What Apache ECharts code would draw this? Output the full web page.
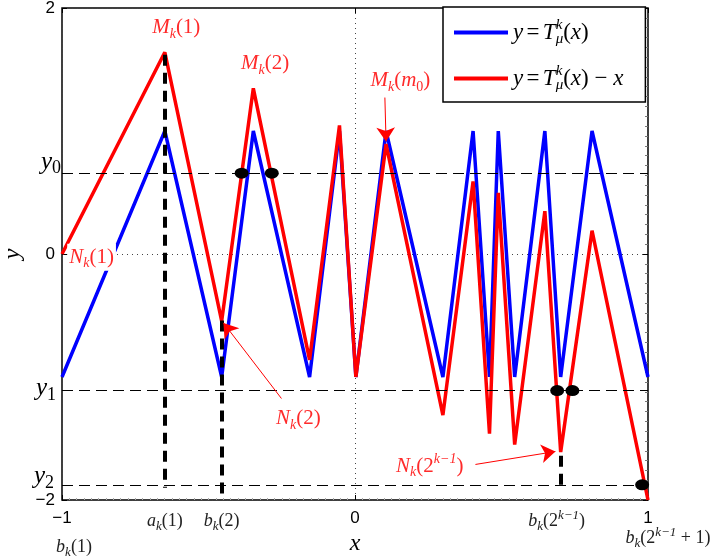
<!DOCTYPE html>
<html><head><meta charset="utf-8">
<script src="https://cdn.jsdelivr.net/npm/echarts@6/dist/echarts.min.js"></script>
<style>html,body{margin:0;padding:0;background:#fff}#c{width:715px;height:558px}</style>
</head><body><div id="c"></div>
<script>
// ---- data ----
const vertexX = [-1, -0.649, -0.455, -0.347, -0.155, -0.053, 0.003, 0.106, 0.300, 0.403, 0.459, 0.489, 0.545, 0.648, 0.702, 0.809, 1];
const blueY   = [-1, 1, -1, 1, -1, 1, -1, 1, -1, 1, -1, 1, -1, 1, -1, 1, -1];
const redY    = [0, 1.64, -0.545, 1.347, -0.86, 1.045, -1.0, 0.894, -1.31, 0.59, -1.46, 0.497, -1.55, 0.348, -1.61, 0.19, -2];
const seriesNames = ['T', 'Tx'];
const xTicks = [-1, 0, 1];
const yTicks = [-2, 0, 2];
const levelNames = ['y0', 'y1', 'y2'];
const levelValues = [0.657, -1.11, -1.877];
const vlineX = [-0.649, -0.455, 0.702];
const vlineTop = [1.62, -0.54, -1.64];
const vlineBottom = [-1.90, -1.95, -1.92];
const dotX = [-0.387, -0.284, 0.690, 0.742, 0.980];
const dotY = [0.657, 0.657, -1.11, -1.11, -1.877];
const arrowFrom = [[0.102, 1.272], [-0.251, -1.175], [0.411, -1.711]];
const arrowTo   = [[0.106, 0.915], [-0.449, -0.560], [0.684, -1.606]];

// ---- styling ----
const SERIF = '"Liberation Serif","DejaVu Serif",serif';
const SANS = '"Liberation Sans","DejaVu Sans",sans-serif';
function richSet(size, color, subScale) {
  const s = Math.round(size * (subScale || 0.7));
  const c = {color: color, fill: color};
  const base = Object.assign({fontFamily: SERIF, fontSize: size, lineHeight: size + 6, verticalAlign: 'middle'}, c);
  const small = Object.assign({fontFamily: SERIF, fontSize: s, lineHeight: s + 2}, c);
  return {
    it: Object.assign({}, base, {fontStyle: 'italic'}),
    rm: Object.assign({}, base),
    sub: Object.assign({}, small, {fontStyle: 'italic', verticalAlign: 'bottom'}),
    subrm: Object.assign({}, small, {verticalAlign: 'bottom'}),
    sup: Object.assign({}, small, {fontStyle: 'italic', verticalAlign: 'top'}),
    supz: Object.assign({}, small, {fontStyle: 'italic', verticalAlign: 'top', width: 0})
  };
}

const chart = echarts.init(document.getElementById('c'), null, {renderer: 'canvas'});
const zip = (xs, ys) => xs.map((x, i) => [x, ys[i]]);
const minusFmt = v => String(v).replace('-', '\u2212');

const option = {
  animation: false,
  backgroundColor: '#fff',
  grid: {left: 62, right: 67, top: 8, bottom: 58, outerBoundsMode: 'none', containLabel: false,
         show: true, borderColor: '#000', borderWidth: 1.5, backgroundColor: 'transparent'},
  legend: {
    data: seriesNames,
    orient: 'vertical',
    left: 443, top: 7,
    padding: [11, 22, 9, 11],
    itemGap: 17,
    icon: 'rect',
    itemWidth: 54, itemHeight: 4,
    backgroundColor: '#fff',
    borderColor: '#000', borderWidth: 1.5, borderRadius: 0,
    formatter: name => name === 'T'
      ? '{it|y} {rm|=} {it|T}{supz|k}{sub|\u03bc}{rm|(}{it|x}{rm|)}'
      : '{it|y} {rm|=} {it|T}{supz|k}{sub|\u03bc}{rm|(}{it|x}{rm|) \u2212 }{it|x}',
    textStyle: {rich: richSet(23, '#000', 0.65)}
  },
  xAxis: [{
    type: 'value', min: xTicks[0], max: xTicks[2], interval: 1,
    name: 'x', nameLocation: 'middle', nameGap: 20,
    nameTextStyle: {fontFamily: SERIF, fontStyle: 'italic', fontSize: 24, color: '#000'},
    axisLine: {show: false, onZero: false},
    axisTick: {show: true, inside: true, length: 5, lineStyle: {color: '#000'}},
    minorTick: {show: true, splitNumber: 40, length: 2, lineStyle: {color: '#aaa'}},
    axisLabel: {fontFamily: SANS, fontSize: 17, color: '#000', margin: 10, formatter: minusFmt},
    splitLine: {show: true, lineStyle: {color: '#444', type: [1, 4], width: 1}}
  }, {
    type: 'value', min: xTicks[0], max: xTicks[2], interval: 1, position: 'top',
    axisLine: {show: false, onZero: false}, axisLabel: {show: false}, splitLine: {show: false},
    axisTick: {show: true, inside: true, length: 5, lineStyle: {color: '#000'}}
  }],
  yAxis: [{
    type: 'value', min: yTicks[0], max: yTicks[2], interval: 2,
    name: 'y', nameLocation: 'middle', nameGap: 30, nameRotate: 90,
    nameTextStyle: {fontFamily: SERIF, fontStyle: 'italic', fontSize: 24, color: '#000'},
    axisLine: {show: false, onZero: false},
    axisTick: {show: true, inside: true, length: 5, lineStyle: {color: '#000'}},
    axisLabel: {fontFamily: SANS, fontSize: 17, color: '#000', margin: 7, formatter: minusFmt},
    splitLine: {show: true, lineStyle: {color: '#444', type: [1, 4], width: 1}}
  }, {
    type: 'value', min: yTicks[0], max: yTicks[2], interval: 2, position: 'right',
    axisLine: {show: false, onZero: false}, axisLabel: {show: false}, splitLine: {show: false},
    axisTick: {show: true, inside: true, length: 5, lineStyle: {color: '#000'}},
    minorTick: {show: true, splitNumber: 25, length: 3, lineStyle: {color: '#777'}}
  }],
  series: [
    {name: 'T', type: 'line', data: zip(vertexX, blueY), symbol: 'none', z: 2,
     lineStyle: {color: '#0000ff', width: 3.5}, itemStyle: {color: '#0000ff'}},
    {name: 'Tx', type: 'line', data: zip(vertexX, redY), symbol: 'none', z: 3,
     lineStyle: {color: '#ff0000', width: 3.5}, itemStyle: {color: '#ff0000'}},
    {name: 'levels', type: 'line', data: [], z: 4,
     markLine: {silent: true, symbol: 'none', label: {show: false},
       lineStyle: {color: '#000', width: 1, type: [11, 6]},
       data: levelValues.map(v => ({yAxis: v}))}},
    {name: 'verticals', type: 'line', data: [], z: 5,
     markLine: {silent: true, symbol: 'none', label: {show: false},
       lineStyle: {color: '#000', width: 4, type: [11, 7]},
       data: vlineX.map((x, i) => [{coord: [x, vlineTop[i]]}, {coord: [x, vlineBottom[i]]}])}},
    {name: 'arrows', type: 'line', data: [], z: 6,
     markLine: {silent: true, symbol: ['none', 'arrow'], symbolSize: 14, label: {show: false},
       lineStyle: {color: '#ff0000', width: 1, type: 'solid'},
       data: arrowFrom.map((f, i) => [{coord: f}, {coord: arrowTo[i]}])}},
    {name: 'dots', type: 'scatter', data: zip(dotX, dotY), symbol: 'circle', symbolSize: [14, 11], z: 7,
     itemStyle: {color: '#000', opacity: 1}}
  ]
};
chart.setOption(option);

// ---- text annotations placed through the chart's own scales ----
const px = (x, y) => chart.convertToPixel({gridIndex: 0}, [x, y]);
const redRich = richSet(21, '#ff2a2a', 0.68);
const axRich = richSet(18, '#222', 0.7);
const lvRich = richSet(25, '#000', 0.7);
const annotations = [
  {t: '{it|M}{sub|k}{rm|(1)}', at: [-0.610, 1.84], rich: redRich},
  {t: '{it|M}{sub|k}{rm|(2)}', at: [-0.307, 1.546], rich: redRich},
  {t: '{it|M}{sub|k}{rm|(}{it|m}{subrm|0}{rm|)}', at: [0.155, 1.41], rich: redRich},
  {t: '{it|N}{sub|k}{rm|(1)}', at: [-0.899, -0.026], rich: redRich, bg: true},
  {t: '{it|N}{sub|k}{rm|(2)}', at: [-0.193, -1.34], rich: redRich},
  {t: '{it|N}{sub|k}{rm|(2}{sup|k\u22121}{rm|)}', at: [0.255, -1.725], rich: redRich}
];
const graphics = annotations.map(a => {
  const p = px(a.at[0], a.at[1]);
  return {type: 'text', x: p[0], y: p[1], z: 50,
    style: {text: a.t, rich: a.rich, align: 'center', verticalAlign: 'middle',
      backgroundColor: a.bg ? '#fff' : 'transparent', padding: a.bg ? [0, 2] : 0}};
});
// level labels y0, y1, y2 on the left of the frame
const levelDy = [-11, -2, -8];
const levelDx = [-1, -6, -8];
levelNames.forEach((n, i) => {
  const p = px(-1, levelValues[i]);
  graphics.push({type: 'text', x: p[0] + levelDx[i], y: p[1] + levelDy[i], z: 50,
    style: {text: '{it|y}{subrm|' + n.slice(1) + '}', rich: lvRich, align: 'right', verticalAlign: 'middle'}});
});
// extra x-axis labels
const xExtra = [
  {t: '{it|a}{sub|k}{rm|(1)}', x: vlineX[0], dx: 0, dy: 21},
  {t: '{it|b}{sub|k}{rm|(2)}', x: vlineX[1], dx: 0, dy: 21},
  {t: '{it|b}{sub|k}{rm|(2}{sup|k\u22121}{rm|)}', x: vlineX[2], dx: -4, dy: 21},
  {t: '{it|b}{sub|k}{rm|(1)}', x: xTicks[0], dx: 12, dy: 47},
  {t: '{it|b}{sub|k}{rm|(2}{sup|k\u22121}{rm| + 1)}', x: xTicks[2], dx: 20, dy: 38}
];
xExtra.forEach(e => {
  const p = px(e.x, yTicks[0]);
  graphics.push({type: 'text', x: p[0] + e.dx, y: p[1] + e.dy, z: 50,
    style: {text: e.t, rich: axRich, align: 'center', verticalAlign: 'middle'}});
});
chart.setOption({graphic: graphics});
</script></body></html>
